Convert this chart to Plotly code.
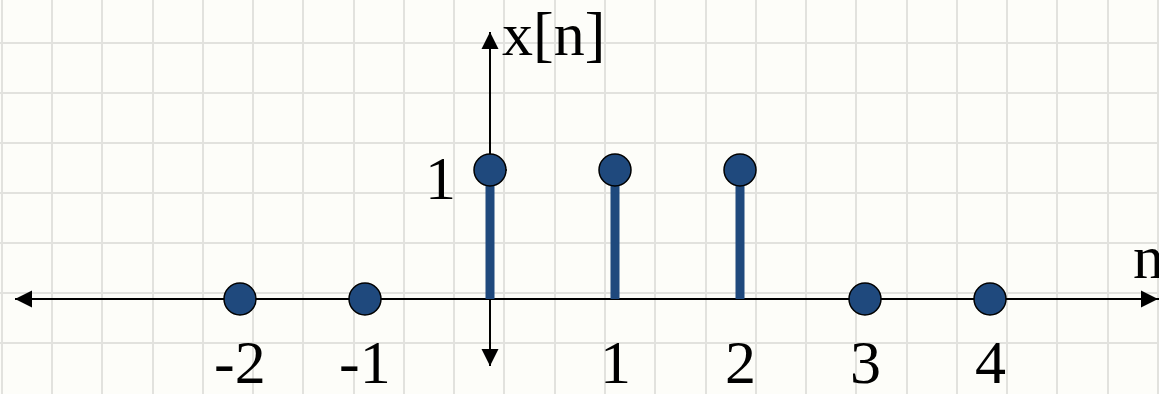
import plotly.graph_objects as go

# ---- data ----
n = [-2, -1, 0, 1, 2, 3, 4]
x_n = [0, 0, 1, 1, 1, 0, 0]
x_tick_vals = [-2, -1, 1, 2, 3, 4]
x_tick_text = ["-2", "-1", "1", "2", "3", "4"]
y_tick_vals = [1]
y_tick_text = ["1"]
x_label = "n"
y_label = "x[n]"

# ---- style / geometry ----
W, H = 1159, 394
X0, SX = 490.0, 125.0   # pixel of n=0, pixels per unit
Y0, SY = 299.0, 129.0   # pixel of value 0 (from top), pixels per unit

def px_x(p):
    return (p - X0) / SX

def px_y(p):
    return (Y0 - p) / SY

BLUE = "#1f497d"
BG = "#fdfdf9"
GRID = "#e2e2de"
FONT = "Liberation Serif"
FS = 62

fig = go.Figure()

# stems
sx, sy = [], []
for xi, yi in zip(n, x_n):
    sx += [xi, xi, None]
    sy += [0, yi, None]
fig.add_trace(go.Scatter(x=sx, y=sy, mode="lines",
                         line=dict(color=BLUE, width=9),
                         hoverinfo="skip", showlegend=False))
# markers
fig.add_trace(go.Scatter(x=n, y=x_n, mode="markers",
                         marker=dict(size=32, color=BLUE,
                                     line=dict(color="black", width=1.5)),
                         showlegend=False))

# axis lines (below traces, above grid)
fig.add_shape(type="line", x0=px_x(15), x1=px_x(W), y0=0, y1=0,
              line=dict(color="black", width=2), layer="between")
fig.add_shape(type="line", x0=0, x1=0, y0=px_y(32), y1=px_y(366),
              line=dict(color="black", width=2), layer="between")
# y tick mark
for v in y_tick_vals:
    fig.add_shape(type="line", x0=0, x1=px_x(507), y0=v, y1=v,
                  line=dict(color="black", width=1.5), layer="between")

# arrowheads
for (tx, ty, ax, ay) in [(px_x(15), 0, 25, 0), (px_x(W - 1), 0, -25, 0),
                         (0, px_y(32), 0, 25), (0, px_y(366), 0, -25)]:
    fig.add_annotation(x=tx, y=ty, ax=ax, ay=ay, text="", showarrow=True,
                       arrowhead=2, arrowsize=1.7, arrowwidth=2,
                       arrowcolor="black", standoff=0)

# tick labels
for v, t in zip(x_tick_vals, x_tick_text):
    fig.add_annotation(x=v, y=px_y(362), text=t, showarrow=False,
                       xanchor="center", yanchor="middle",
                       font=dict(family=FONT, size=FS, color="black"))
for v, t in zip(y_tick_vals, y_tick_text):
    fig.add_annotation(x=px_x(440), y=v - 0.06, text=t, showarrow=False,
                       xanchor="center", yanchor="middle",
                       font=dict(family=FONT, size=FS, color="black"))

# axis labels
fig.add_annotation(x=px_x(500), y=px_y(34), text=y_label, showarrow=False,
                   xanchor="left", yanchor="middle",
                   font=dict(family=FONT, size=FS, color="black"))
fig.add_annotation(x=px_x(1131), y=px_y(257), text=x_label, showarrow=False,
                   xanchor="left", yanchor="middle",
                   font=dict(family=FONT, size=FS, color="black"))

fig.update_xaxes(range=[px_x(0), px_x(W)], showgrid=True, gridcolor=GRID,
                 gridwidth=1.5, tickmode="linear", tick0=px_x(52),
                 dtick=50.27 / SX, showticklabels=False, zeroline=False,
                 showline=False, ticks="", fixedrange=True)
fig.update_yaxes(range=[px_y(H), px_y(0)], showgrid=True, gridcolor=GRID,
                 gridwidth=1.5, tickmode="linear", tick0=px_y(43),
                 dtick=50 / SY, showticklabels=False, zeroline=False,
                 showline=False, ticks="", fixedrange=True)

fig.update_layout(width=W, height=H, margin=dict(l=0, r=0, t=0, b=0),
                  plot_bgcolor=BG, paper_bgcolor=BG, showlegend=False)

fig.write_html("out.html", config={"displayModeBar": False},
               post_script="document.body.style.margin='0';document.body.style.overflow='hidden';")
